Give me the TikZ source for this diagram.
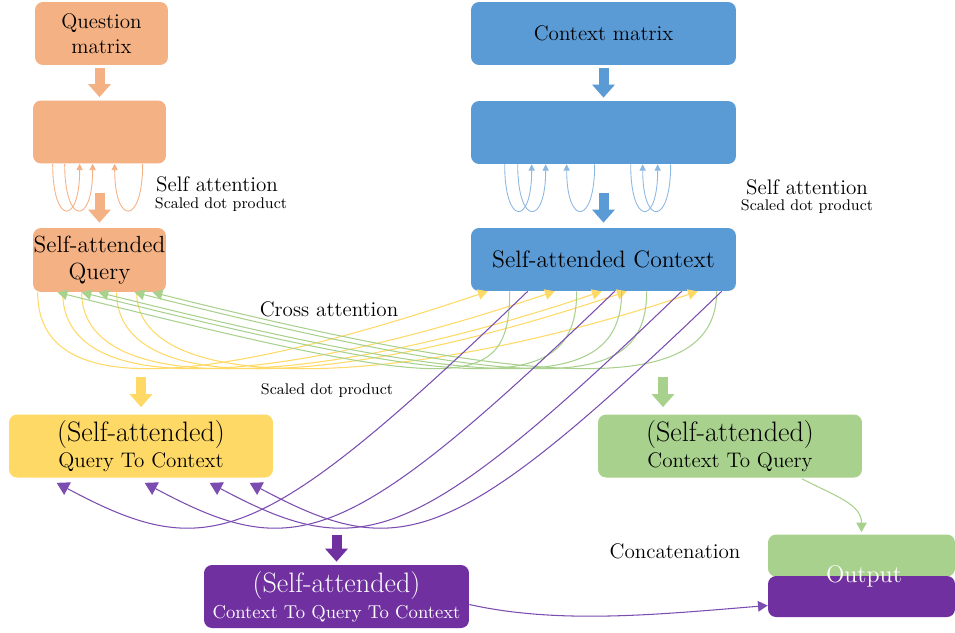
\documentclass[tikz,border=0pt]{standalone}
\usetikzlibrary{arrows.meta,calc}
\definecolor{qorange}{HTML}{F4B183}
\definecolor{cblue}{HTML}{5B9BD5}
\definecolor{lblue}{HTML}{8DB8E2}
\definecolor{qyellow}{HTML}{FFD966}
\definecolor{cgreen}{HTML}{A9D18E}
\definecolor{cpurple}{HTML}{7030A0}
\definecolor{lpurple}{HTML}{7B4DB0}
\newcommand\fsz[2]{\fontsize{#1}{#2}\selectfont}
\begin{document}
\begin{tikzpicture}[x=0.02cm,y=-0.02cm,
  box/.style={rounded corners=0.16cm, inner sep=0pt, align=center, text=black},
  smallbox/.style={box, minimum width=2.66cm, minimum height=1.26cm},
  widebox/.style={box, minimum width=5.3cm, minimum height=1.26cm},
  fat/.style={line width=0.2cm, -{Triangle[width=0.44cm,length=0.26cm]}},
  loopline/.style={line width=0.5pt, -{Triangle[width=3.6pt,length=3.6pt]}},
  crossline/.style={line width=0.6pt, -{Triangle[width=6pt,length=5.5pt]}},
  label/.style={inner sep=0pt, font=\fsz{12}{14}},
  small/.style={inner sep=0pt, font=\fsz{8.8}{10}}]
\useasboundingbox (0,0) rectangle (955,632);

% question branch
\node[smallbox, fill=qorange, font=\fsz{12}{14.2}] (q1) at (101.5,33.5) {Question\\matrix};
\node[smallbox, fill=qorange] (q2) at (99.5,132) {};
\node[smallbox, fill=qorange, minimum height=1.28cm, font=\fsz{13.3}{15.4}] (sq) at (99.5,260) {Self-attended\\Query};

% context branch
\node[widebox, fill=cblue, font=\fsz{12}{14}] (c1) at (603.5,33.5) {Context matrix};
\node[widebox, fill=cblue] (c2) at (603.5,132.5) {};
\node[widebox, fill=cblue, font=\fsz{13.5}{16}] (sc) at (603.5,259.5) {Self-attended Context};

% attention results
\node[widebox, fill=qyellow, minimum width=5.28cm, font=\fsz{16}{18}] (qc) at (141,446)
  {(Self-attended)\\[-3pt]\fsz{12}{14}Query To Context};
\node[widebox, fill=cgreen, minimum width=5.28cm, font=\fsz{16}{18}] (cq) at (730,446)
  {(Self-attended)\\[-3pt]\fsz{12}{14}Context To Query};
\node[widebox, fill=cpurple, text=white, font=\fsz{16}{18}] (cqc) at (336.5,596.5)
  {(Self-attended)\\[-3.2pt]\fsz{10.6}{12}Context To Query To Context};

% concatenated output
\node[box, fill=cgreen, minimum width=3.74cm, minimum height=0.84cm] (outg) at (861.5,555.5) {};
\node[box, fill=cpurple, minimum width=3.74cm, minimum height=0.82cm] (outp) at (861.5,596.5) {};
\node[inner sep=0pt, text=white, font=\fsz{13.7}{16}] (outl) at (864,576) {Output};

% labels
\node[label] (sa1) at (217,184) {Self attention};
\node[small] (sd1) at (221,205) {Scaled dot product};
\node[label] (sa2) at (807,187) {Self attention};
\node[small] (sd2) at (807,207) {Scaled dot product};
\node[label] (ca) at (329,309) {Cross attention};
\node[small] (sd3) at (327,391) {Scaled dot product};
\node[label] (cc) at (675,551) {Concatenation};

% block arrows
\draw[fat, qorange] (q2.north |- q1.south) ++(0,3) -- ($(q2.north)+(0,-3)$);
\draw[fat, qorange] ($(sq.north)+(0,-35)$) -- ($(sq.north)+(0,-5)$);
\draw[fat, cblue] ($(c1.south)+(0,3)$) -- ($(c2.north)+(0,-3)$);
\draw[fat, cblue] ($(sc.north)+(0,-35)$) -- ($(sc.north)+(0,-5)$);
\draw[fat, qyellow] ($(qc.north)+(0,-37)$) -- ($(qc.north)+(0,-7)$);
\draw[fat, cgreen] ($(cq.north)+(-67,-37)$) -- ($(cq.north)+(-67,-7)$);
\draw[fat, cpurple] ($(cqc.north)+(0,-30)$) -- ($(cqc.north)+(0,-3)$);

% self attention loops
\foreach \s/\e in {20/47, 32/60, 110/82}
  \draw[loopline, qorange] ($(q2.south west)+(\s,0)$)
    .. controls ($(q2.south west)+(\s,62)$) and ($(q2.south west)+(\e,62)$)
    .. ($(q2.south west)+(\e,0)$);
\foreach \s/\e in {34/61, 47/75, 124/96, 160/187, 200/172}
  \draw[loopline, lblue] ($(c2.south west)+(\s,0)$)
    .. controls ($(c2.south west)+(\s,62)$) and ($(c2.south west)+(\e,62)$)
    .. ($(c2.south west)+(\e,0)$);

% cross attention: query to context
\foreach \s/\e in {5/17, 30/84, 49/131, 84/156, 104/227}
  \draw[crossline, qyellow] ($(sq.south west)+(\s,0)$)
    .. controls ($(sq.south west)+(\s,103)$) and ($(sc.south west)+(\e-300,101)$)
    .. ($(sc.south west)+(\e,0)$);
% cross attention: context to query
\foreach \s/\e in {39/25, 106/49, 151/66, 176/102, 246/120}
  \draw[crossline, cgreen] ($(sc.south west)+(\s,0)$)
    .. controls ($(sc.south west)+(\s,104)$) and ($(sq.south west)+(\e+400,100)$)
    .. ($(sq.south west)+(\e,0)$);
% context to query to context
\foreach \s/\e in {57/48, 144/136, 211/201, 251/241}
  \draw[crossline, lpurple, -{Triangle[width=8pt,length=7pt]}] ($(sc.south west)+(\s,0)$)
    .. controls ($(sc.south west)+(\s-270,260)$) and ($(qc.south west)+(\e+150,85)$)
    .. ($(qc.south west)+(\e,5)$);

% concatenation
\draw[crossline, cgreen] ($(cq.south)+(72,1)$)
  .. controls ($(cq.south)+(105,18)$) and ($(outg.north)+(0,-30)$) .. ($(outg.north)+(0,-2)$);
\draw[crossline, lpurple] ($(cqc.east)+(0,8)$)
  .. controls ($(cqc.east)+(90,28)$) and ($(outp.west)+(-110,18)$) .. ($(outp.west)+(0,9)$);
\end{tikzpicture}
\end{document}
